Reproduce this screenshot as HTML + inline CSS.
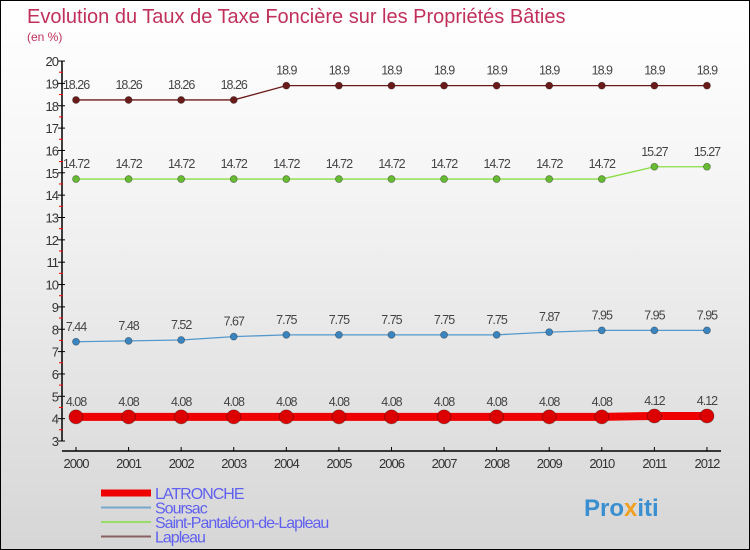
<!DOCTYPE html>
<html><head><meta charset="utf-8"><style>
body{margin:0}
#c{width:750px;height:550px;position:relative;box-sizing:border-box;border:1px solid #000;background:linear-gradient(#ffffff,#f6f6f6 30%,#d6d6d6);font-family:"Liberation Sans","DejaVu Sans",sans-serif;overflow:hidden}
</style></head><body>
<div id="c">
<svg id="s" width="750" height="550" style="position:absolute;left:0;top:0">
<text x="26" y="22" font-size="20" fill="#c0305a">Evolution du Taux de Taxe Foncière sur les Propriétés Bâties</text>
<text x="26" y="40" font-size="12" fill="#c0305a">(en %)</text>
<g id="axes"></g><g id="series"></g><g id="legend"></g>
<text x="583" y="515" font-size="24" font-weight="bold" fill="#3a8fd0">Pro<tspan fill="#f0a020">x</tspan>iti</text>
</svg>
</div>
<script>
const years=[2000,2001,2002,2003,2004,2005,2006,2007,2008,2009,2010,2011,2012];
const yTicks=[3,4,5,6,7,8,9,10,11,12,13,14,15,16,17,18,19,20];
const latronche=[4.08,4.08,4.08,4.08,4.08,4.08,4.08,4.08,4.08,4.08,4.08,4.12,4.12];
const soursac=[7.44,7.48,7.52,7.67,7.75,7.75,7.75,7.75,7.75,7.87,7.95,7.95,7.95];
const stpantaleon=[14.72,14.72,14.72,14.72,14.72,14.72,14.72,14.72,14.72,14.72,14.72,15.27,15.27];
const lapleau=[18.26,18.26,18.26,18.26,18.9,18.9,18.9,18.9,18.9,18.9,18.9,18.9,18.9];
const names=["LATRONCHE","Soursac","Saint-Pantaléon-de-Lapleau","Lapleau"];
const NS="http://www.w3.org/2000/svg";
const X=i=>75+i*52.58, Y=v=>440-(v-3)*22.35;
function mk(tag,at,parent){const e=document.createElementNS(NS,tag);for(const k in at)e.setAttribute(k,at[k]);parent.appendChild(e);return e;}
const ax=document.getElementById('axes');
let l=mk('line',{x1:61,y1:60,x2:61,y2:440,stroke:'#000','stroke-width':1.5},ax);


l=mk('line',{x1:61,y1:450,x2:720,y2:450,stroke:'#000','stroke-width':1.5},ax);


yTicks.forEach(v=>{const y=Y(v);
 mk('line',{x1:57,y1:y,x2:64,y2:y,stroke:'#000'},ax);
 if(v<20)mk('line',{x1:58,y1:y-11.2,x2:62,y2:y-11.2,stroke:'#f00'},ax);
 const t=mk('text',{x:57,y:y+5,'font-size':13,'text-anchor':'end',fill:'#333','letter-spacing':'-1'},ax);t.textContent=v;
 
 
});
years.forEach((yr,i)=>{const x=X(i);
 mk('line',{x1:x,y1:446,x2:x,y2:450,stroke:'#000'},ax);
 const t=mk('text',{x:x,y:467,'font-size':13,'text-anchor':'middle',fill:'#333','letter-spacing':'-1'},ax);t.textContent=yr;
 
 
});
const sg=document.getElementById('series');
const S=[[lapleau,'#6b1a1a','#6b1a1a',1.3,3.5,'lapleau'],[stpantaleon,'#88dd44','#66bb33',1.3,3.5,'saint-pantaleon'],[soursac,'#5599cc','#3a85c0',1.3,3.5,'soursac'],[latronche,'#ee0000','#dd0000',8,7,'latronche']];
S.forEach(([d,c,fc,w,r,n])=>{
 const p=mk('polyline',{points:d.map((v,i)=>X(i)+','+Y(v)).join(' '),fill:'none',stroke:c,'stroke-width':w},sg);
 
 
 d.forEach((v,i)=>{
  const ci=mk('circle',{cx:X(i),cy:Y(v),r:r,fill:fc,stroke:'rgba(0,0,0,0.35)','stroke-width':0.8},sg);
  
  
  const t=mk('text',{x:X(i),y:Y(v)-11,'font-size':12.5,'text-anchor':'middle',fill:'#444','letter-spacing':'-1'},sg);t.textContent=String(v);
  
  
 });
});
const lg=document.getElementById('legend');
const LC=[['#ee0000',7],['#77a8cc',2],['#99dd66',2],['#8a6060',2]];
names.forEach((n,i)=>{const y=492+i*14.5;
 const ln=mk('line',{x1:100,y1:y,x2:150,y2:y,stroke:LC[i][0],'stroke-width':LC[i][1]},lg);
 
 
 const t=mk('text',{x:154,y:y+6,'font-size':16,fill:'#6060f0','letter-spacing':'-1'},lg);t.textContent=n;
 
 
});
</script>
</body></html>
